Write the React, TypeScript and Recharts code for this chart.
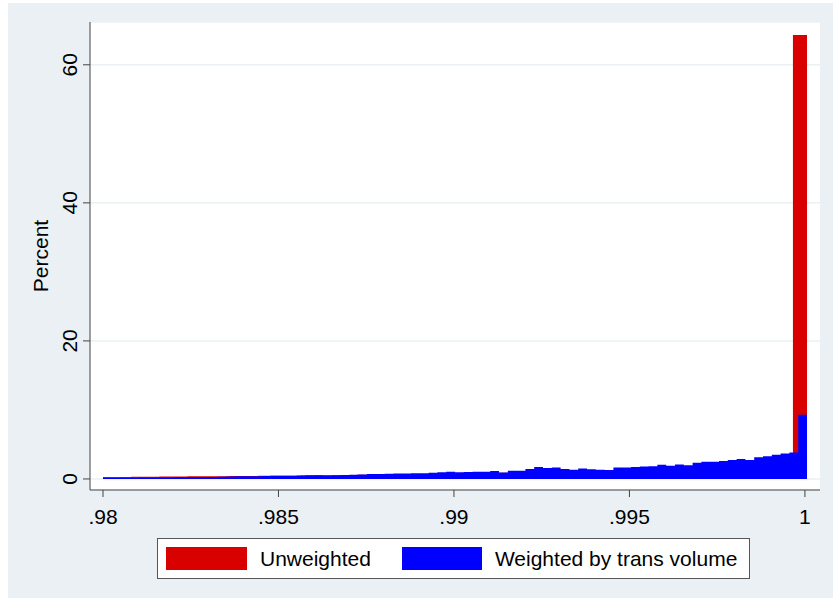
import { ComposedChart, Area, XAxis, YAxis, CartesianGrid } from 'recharts'

// histogram range on the x axis
const histStart = 0.98
const histEnd = 1.00006

// unweighted: 50 bins (percent)
const unweighted = [
  0.3, 0.3, 0.32, 0.32, 0.35, 0.35, 0.38, 0.4, 0.4, 0.42,
  0.42, 0.45, 0.45, 0.48, 0.5, 0.52, 0.55, 0.58, 0.6, 0.62,
  0.65, 0.68, 0.7, 0.72, 0.75, 0.78, 0.8, 0.85, 0.9, 0.95,
  1.0, 1.05, 1.1, 1.15, 1.2, 1.25, 1.3, 1.4, 1.5, 1.6,
  1.7, 1.8, 1.9, 2.0, 2.1, 2.2, 2.3, 2.5, 2.8, 64.3,
]

// weighted by trans volume: 80 bins (percent)
const weighted = [
  0.15, 0.15, 0.18, 0.18, 0.2, 0.2, 0.22, 0.22, 0.25, 0.25,
  0.27, 0.28, 0.3, 0.32, 0.35, 0.38, 0.4, 0.4, 0.42, 0.45,
  0.45, 0.48, 0.5, 0.52, 0.55, 0.5, 0.55, 0.58, 0.6, 0.65,
  0.7, 0.72, 0.75, 0.78, 0.8, 0.83, 0.83, 0.9, 0.97, 1.06,
  0.97, 1.0, 1.06, 1.06, 1.16, 0.95, 1.2, 1.2, 1.45, 1.75,
  1.6, 1.65, 1.45, 1.35, 1.5, 1.4, 1.35, 1.3, 1.65, 1.65,
  1.75, 1.8, 1.85, 2.07, 1.9, 2.1, 2.0, 2.35, 2.5, 2.5,
  2.6, 2.75, 2.9, 2.75, 3.15, 3.3, 3.5, 3.7, 3.85, 9.3,
]

const xTicks = [0.98, 0.985, 0.99, 0.995, 1]
const yTicks = [0, 20, 40, 60]

const seriesNames = ['Unweighted', 'Weighted by trans volume']
const RED = '#d90000'
const BLUE = '#0000ff'
const FONT = '"Liberation Sans", Arial, Helvetica, sans-serif'

// value of the bin that holds x (0 outside the histogram)
function binValue(vals: number[], x: number) {
  if (x < histStart - 1e-12 || x >= histEnd - 1e-12) return 0
  const w = (histEnd - histStart) / vals.length
  const i = Math.min(vals.length - 1, Math.floor((x - histStart) / w + 1e-9))
  return vals[i]
}

function edges(n: number) {
  return Array.from({ length: n + 1 }, (_, i) => histStart + (i * (histEnd - histStart)) / n)
}

const allEdges = [...edges(unweighted.length), ...edges(weighted.length)]
  .sort((a, b) => a - b)
  .filter((v, i, arr) => i === 0 || v - arr[i - 1] > 1e-10)

const data = allEdges.map(x => ({
  x,
  unweighted: binValue(unweighted, x),
  weighted: binValue(weighted, x),
}))

const fmtX = (v: number) => (v === 1 ? '1' : String(v).replace(/^0/, ''))

const YTick = (props: any) => {
  const { x, y, payload } = props
  return (
    <text x={x} y={y} transform={`rotate(-90 ${x} ${y})`} textAnchor="middle"
      fontSize={21} fontFamily={FONT} fill="#000">
      {payload.value}
    </text>
  )
}

const YLabel = (props: any) => {
  const { viewBox } = props
  const cx = viewBox.x + 48
  const cy = viewBox.y + viewBox.height / 2
  return (
    <text x={cx} y={cy} transform={`rotate(-90 ${cx} ${cy})`} textAnchor="middle"
      fontSize={21} fontFamily={FONT} fill="#000">
      Percent
    </text>
  )
}

export default function App() {
  return (
    <div style={{ position: 'absolute', left: 0, top: 0, width: 833, height: 602, background: '#fff' }}>
      <div style={{ position: 'absolute', left: 8, top: 3, width: 825, height: 595, background: '#eaf0f3' }} />
      <div style={{ position: 'absolute', left: 0, top: 0 }}>
        <ComposedChart width={833} height={530} data={data}
          margin={{ top: 22, right: 13, bottom: 0, left: 0 }}>
          <CartesianGrid vertical={false} stroke="#eaf0f3" strokeWidth={1.5} fill="#ffffff" />
          <XAxis dataKey="x" type="number" domain={[0.97963, 1.00043]} ticks={xTicks}
            allowDataOverflow tickFormatter={fmtX} height={40}
            stroke="#444" tickSize={7} tickMargin={12}
            tick={{ fontSize: 21, fontFamily: FONT, fill: '#000' }} />
          <YAxis type="number" domain={[-1.6, 66.2]} ticks={yTicks} allowDataOverflow width={90}
            stroke="#444" tickSize={7} tickMargin={6} tick={<YTick />}
            label={<YLabel />} />
          <Area type="stepAfter" dataKey="unweighted" baseValue={0} fill={RED} fillOpacity={1}
            stroke="none" dot={false} activeDot={false} isAnimationActive={false} />
          <Area type="stepAfter" dataKey="weighted" baseValue={0} fill={BLUE} fillOpacity={1}
            stroke="none" dot={false} activeDot={false} isAnimationActive={false} />
        </ComposedChart>
      </div>
      <div style={{
        position: 'absolute', left: 157, top: 538, width: 591, height: 39,
        background: '#fff', border: '1px solid #555', fontFamily: FONT, fontSize: 21,
        display: 'flex', alignItems: 'center',
      }}>
        <div style={{ width: 81, height: 23, background: RED, marginLeft: 8 }} />
        <span style={{ marginLeft: 13 }}>{seriesNames[0]}</span>
        <div style={{ width: 80, height: 23, background: BLUE, marginLeft: 31 }} />
        <span style={{ marginLeft: 13 }}>{seriesNames[1]}</span>
      </div>
    </div>
  )
}
